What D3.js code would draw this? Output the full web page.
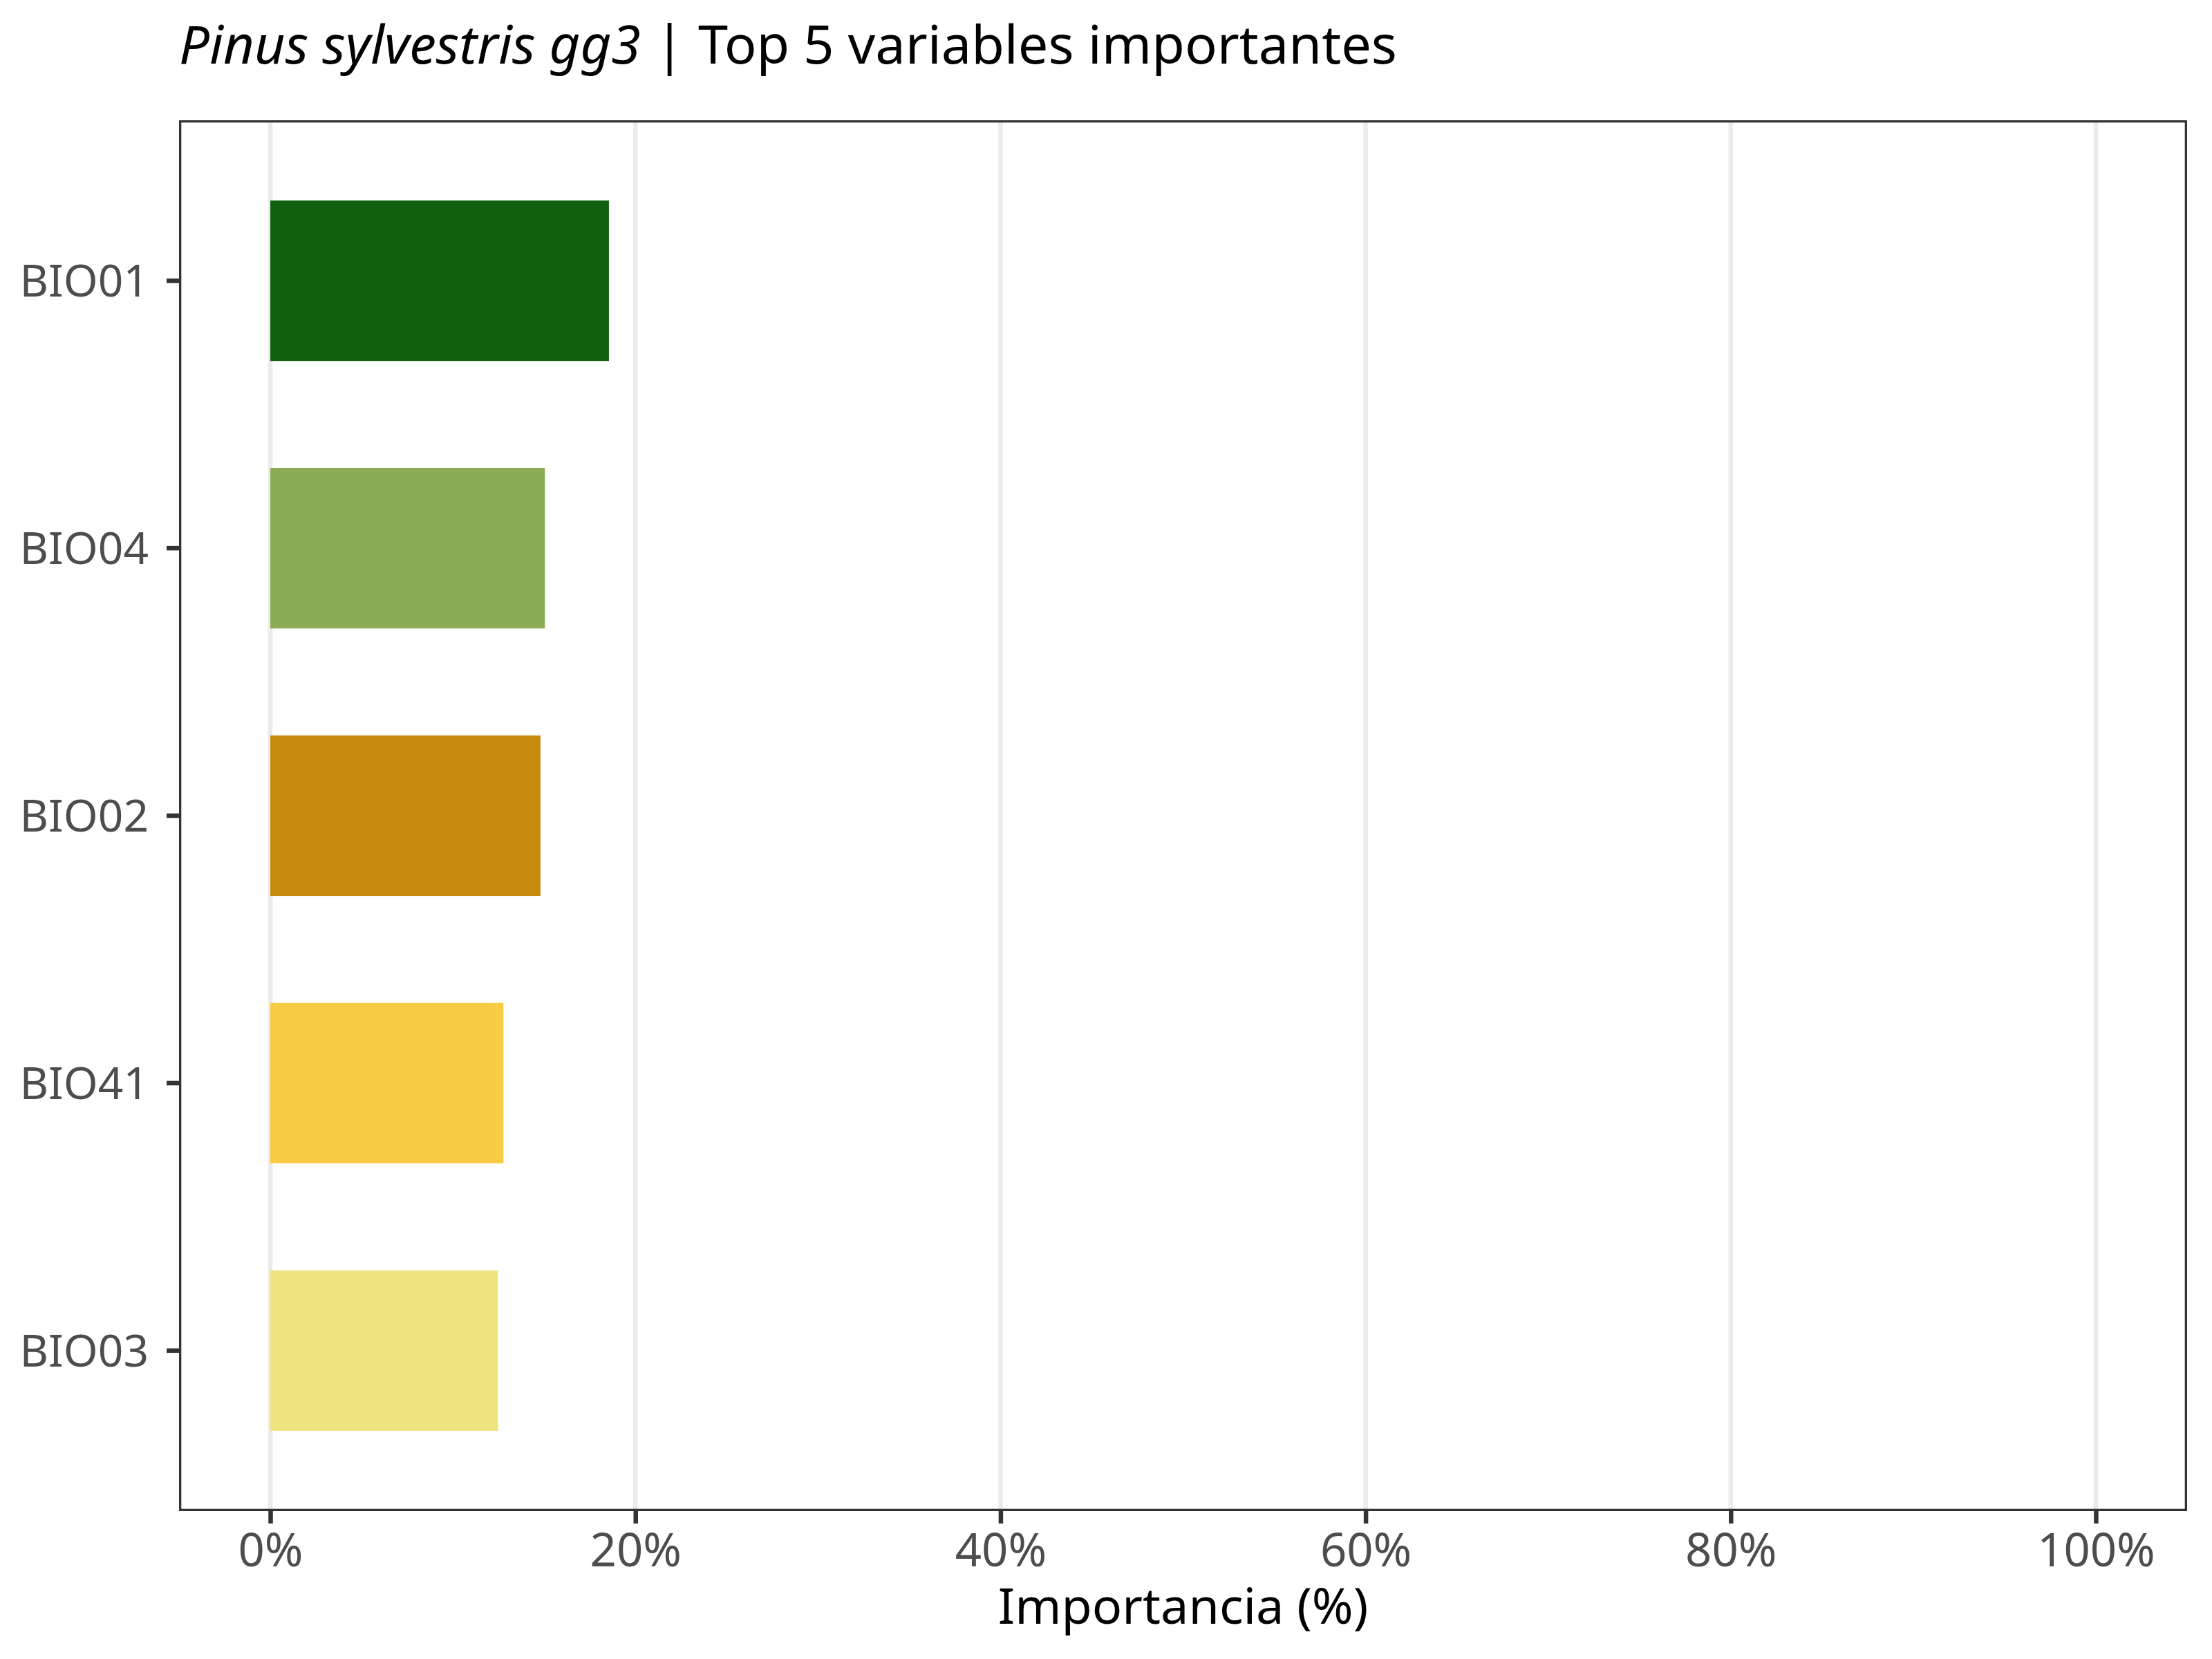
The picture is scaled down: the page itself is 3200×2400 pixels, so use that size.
<!DOCTYPE html>
<html>
<head>
<meta charset="utf-8">
<script src="https://cdn.jsdelivr.net/npm/d3@7"></script>
<style>
    body { margin: 0; background: #fff; }
    svg { display: block; }
</style>
</head>
<body>
<div id="chart"></div>
<script>
// datos del gráfico
const variables = ["BIO01", "BIO04", "BIO02", "BIO41", "BIO03"];
const importancia = [18.55, 15.04, 14.8, 12.77, 12.47];
const colores = ["#10600E", "#8BAD55", "#C88A0E", "#F7CC43", "#EFE37F"];
const xTicks = [0, 20, 40, 60, 80, 100];
const especie = "Pinus sylvestris gg3";
const subtitulo = " | Top 5 variables importantes";
const xLabel = "Importancia (%)";

const width = 3200, height = 2400;
const panel = { left: 259, right: 3164, top: 174, bottom: 2186 };
const font = "'Noto Sans', 'Open Sans', sans-serif";

const svg = d3.select("#chart")
    .append("svg")
    .attr("width", width)
    .attr("height", height);

svg.append("rect")
    .attr("width", width)
    .attr("height", height)
    .attr("fill", "#fff");

// escalas
const x = d3.scaleLinear()
    .domain([-5, 105])
    .range([panel.left, panel.right]);

const y = d3.scaleBand()
    .domain(variables)
    .range([panel.top, panel.bottom])
    .paddingInner(0.4)
    .paddingOuter(0.3);

// rejilla vertical
svg.append("g")
    .selectAll("line")
    .data(xTicks)
    .enter()
    .append("line")
    .attr("x1", d => x(d))
    .attr("x2", d => x(d))
    .attr("y1", panel.top)
    .attr("y2", panel.bottom)
    .attr("stroke", "#EBEBEB")
    .attr("stroke-width", 6.5);

// barras
svg.append("g")
    .selectAll("rect")
    .data(variables)
    .enter()
    .append("rect")
    .attr("x", x(0))
    .attr("y", d => y(d))
    .attr("width", (d, i) => x(importancia[i]) - x(0))
    .attr("height", y.bandwidth())
    .attr("fill", (d, i) => colores[i]);

// borde del panel (medio ancho visible, como en ggplot)
svg.append("rect")
    .attr("x", panel.left + 1.65)
    .attr("y", panel.top + 1.65)
    .attr("width", panel.right - panel.left - 3.3)
    .attr("height", panel.bottom - panel.top - 3.3)
    .attr("fill", "none")
    .attr("stroke", "#333333")
    .attr("stroke-width", 3.3);

// ejes
const xAxis = svg.append("g")
    .attr("transform", `translate(0,${panel.bottom})`)
    .call(d3.axisBottom(x).tickValues(xTicks).tickFormat(d => d + "%").tickSize(18).tickPadding(14));

const yAxis = svg.append("g")
    .attr("transform", `translate(${panel.left},0)`)
    .call(d3.axisLeft(y).tickSize(18).tickPadding(26));

[xAxis, yAxis].forEach(ax => {
    ax.select(".domain").remove();
    ax.selectAll(".tick line")
        .attr("stroke", "#333333")
        .attr("stroke-width", 6.5);
    ax.selectAll(".tick text")
        .attr("fill", "#4D4D4D")
        .style("font-family", font);
});

xAxis.selectAll(".tick text").attr("dy", "0.71em").style("font-size", "67px");
yAxis.selectAll(".tick text").attr("dy", "0.36em").style("font-size", "64px");

// título del eje x
svg.append("text")
    .attr("x", (panel.left + panel.right) / 2)
    .attr("y", 2349)
    .attr("text-anchor", "middle")
    .attr("fill", "#000")
    .style("font-family", font)
    .style("font-size", "72px")
    .text(xLabel);

// título
const title = svg.append("text")
    .attr("x", panel.left)
    .attr("y", 92)
    .attr("fill", "#000")
    .style("font-family", font)
    .style("font-size", "77.5px");

title.append("tspan")
    .style("font-style", "italic")
    .text(especie);

title.append("tspan")
    .text(subtitulo);
</script>
</body>
</html>
